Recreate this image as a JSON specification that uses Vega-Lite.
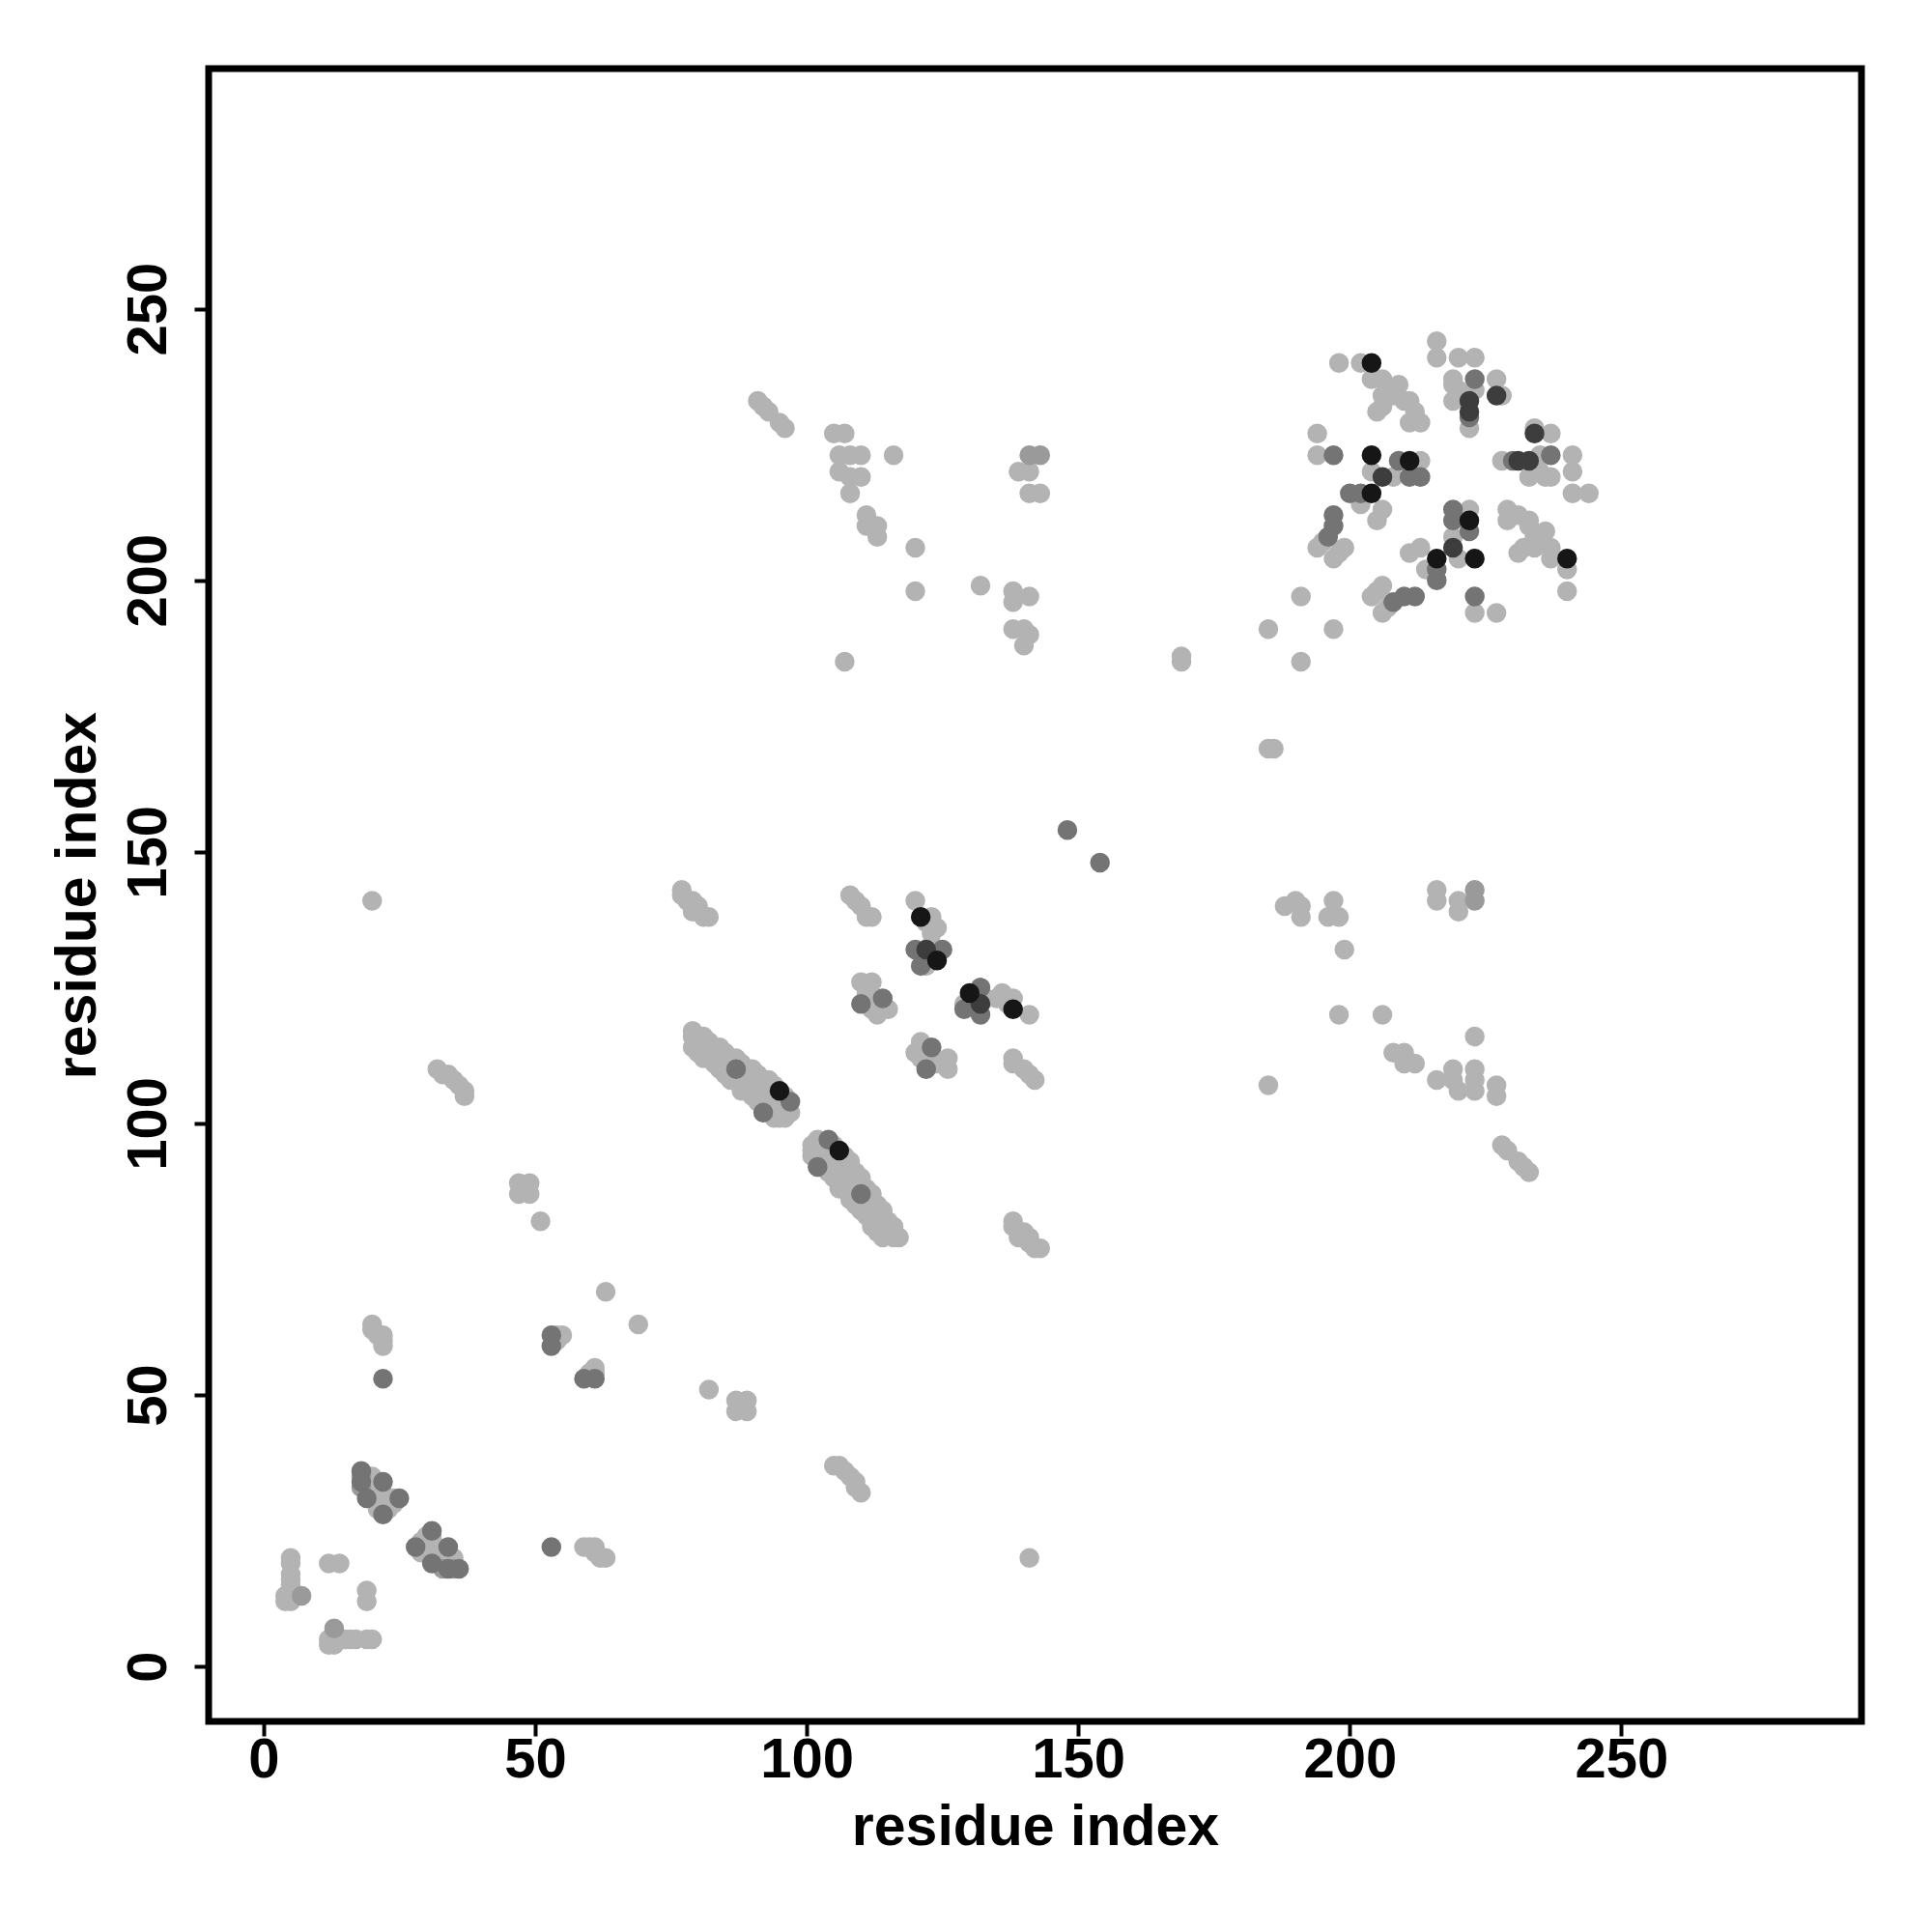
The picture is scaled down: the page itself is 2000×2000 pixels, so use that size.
{
"$schema":"https://vega.github.io/schema/vega-lite/v6.json",
"width":1711,"height":1711,
"autosize":{"type":"none"},
"padding":{"left":216,"top":71,"right":73,"bottom":218},
"background":"white",
"data":{"values":[
{"i":5,"j":20,"c":1},{"i":20,"j":5,"c":1},{"i":5,"j":19,"c":1},{"i":19,"j":5,"c":1},{"i":5,"j":17,"c":1},{"i":17,"j":5,"c":1},{"i":5,"j":16,"c":1},{"i":16,"j":5,"c":1},{"i":5,"j":15,"c":1},{"i":15,"j":5,"c":1},{"i":5,"j":14,"c":1},{"i":14,"j":5,"c":1},{"i":4,"j":13,"c":1},{"i":13,"j":4,"c":1},{"i":5,"j":12,"c":1},{"i":12,"j":5,"c":1},{"i":6,"j":13,"c":1},{"i":13,"j":6,"c":1},{"i":7,"j":13,"c":2},{"i":13,"j":7,"c":2},{"i":4,"j":12,"c":1},{"i":12,"j":4,"c":1},
{"i":12,"j":19,"c":1},{"i":19,"j":12,"c":1},{"i":14,"j":19,"c":1},{"i":19,"j":14,"c":1},
{"i":18,"j":36,"c":3},{"i":36,"j":18,"c":3},{"i":18,"j":35,"c":2},{"i":35,"j":18,"c":2},{"i":18,"j":34,"c":3},{"i":34,"j":18,"c":3},{"i":18,"j":33,"c":2},{"i":33,"j":18,"c":2},{"i":19,"j":34,"c":1},{"i":34,"j":19,"c":1},{"i":20,"j":35,"c":1},{"i":35,"j":20,"c":1},{"i":20,"j":33,"c":1},{"i":33,"j":20,"c":1},{"i":21,"j":33,"c":1},{"i":33,"j":21,"c":1},{"i":19,"j":32,"c":1},{"i":32,"j":19,"c":1},{"i":21,"j":31,"c":1},{"i":31,"j":21,"c":1},{"i":22,"j":34,"c":3},{"i":34,"j":22,"c":3},{"i":22,"j":32,"c":1},{"i":32,"j":22,"c":1},{"i":23,"j":30,"c":1},{"i":30,"j":23,"c":1},{"i":23,"j":29,"c":1},{"i":29,"j":23,"c":1},{"i":24,"j":31,"c":1},{"i":31,"j":24,"c":1},{"i":25,"j":31,"c":3},{"i":31,"j":25,"c":3},{"i":19,"j":31,"c":3},{"i":31,"j":19,"c":3},{"i":22,"j":28,"c":3},{"i":28,"j":22,"c":3},{"i":21,"j":29,"c":1},{"i":29,"j":21,"c":1},{"i":24,"j":30,"c":1},{"i":30,"j":24,"c":1},
{"i":22,"j":53,"c":3},{"i":53,"j":22,"c":3},
{"i":20,"j":63,"c":1},{"i":63,"j":20,"c":1},{"i":20,"j":62,"c":1},{"i":62,"j":20,"c":1},{"i":21,"j":61,"c":1},{"i":61,"j":21,"c":1},{"i":22,"j":61,"c":1},{"i":61,"j":22,"c":1},{"i":22,"j":60,"c":1},{"i":60,"j":22,"c":1},{"i":22,"j":59,"c":1},{"i":59,"j":22,"c":1},
{"i":53,"j":59,"c":3},{"i":59,"j":53,"c":3},{"i":53,"j":61,"c":3},{"i":61,"j":53,"c":3},{"i":54,"j":60,"c":1},{"i":60,"j":54,"c":1},{"i":55,"j":61,"c":1},{"i":61,"j":55,"c":1},{"i":54,"j":61,"c":1},{"i":61,"j":54,"c":1},
{"i":63,"j":69,"c":1},{"i":69,"j":63,"c":1},{"i":51,"j":82,"c":1},{"i":82,"j":51,"c":1},
{"i":47,"j":89,"c":1},{"i":89,"j":47,"c":1},{"i":49,"j":89,"c":1},{"i":89,"j":49,"c":1},{"i":48,"j":88,"c":1},{"i":88,"j":48,"c":1},{"i":47,"j":87,"c":1},{"i":87,"j":47,"c":1},{"i":49,"j":87,"c":1},{"i":87,"j":49,"c":1},
{"i":32,"j":110,"c":1},{"i":110,"j":32,"c":1},{"i":33,"j":109,"c":1},{"i":109,"j":33,"c":1},{"i":34,"j":109,"c":1},{"i":109,"j":34,"c":1},{"i":35,"j":108,"c":1},{"i":108,"j":35,"c":1},{"i":36,"j":107,"c":1},{"i":107,"j":36,"c":1},{"i":37,"j":106,"c":1},{"i":106,"j":37,"c":1},{"i":37,"j":105,"c":1},{"i":105,"j":37,"c":1},
{"i":20,"j":141,"c":1},{"i":141,"j":20,"c":1},
{"i":77,"j":143,"c":1},{"i":143,"j":77,"c":1},{"i":77,"j":142,"c":1},{"i":142,"j":77,"c":1},{"i":78,"j":141,"c":1},{"i":141,"j":78,"c":1},{"i":79,"j":141,"c":1},{"i":141,"j":79,"c":1},{"i":80,"j":140,"c":1},{"i":140,"j":80,"c":1},{"i":80,"j":139,"c":1},{"i":139,"j":80,"c":1},{"i":81,"j":138,"c":1},{"i":138,"j":81,"c":1},{"i":82,"j":138,"c":1},{"i":138,"j":82,"c":1},{"i":79,"j":139,"c":1},{"i":139,"j":79,"c":1},
{"i":79,"j":117,"c":1},{"i":117,"j":79,"c":1},{"i":79,"j":116,"c":1},{"i":116,"j":79,"c":1},{"i":79,"j":114,"c":1},{"i":114,"j":79,"c":1},{"i":80,"j":116,"c":1},{"i":116,"j":80,"c":1},{"i":80,"j":115,"c":1},{"i":115,"j":80,"c":1},{"i":80,"j":113,"c":1},{"i":113,"j":80,"c":1},{"i":81,"j":116,"c":1},{"i":116,"j":81,"c":1},{"i":81,"j":114,"c":1},{"i":114,"j":81,"c":1},{"i":81,"j":112,"c":1},{"i":112,"j":81,"c":1},{"i":82,"j":115,"c":1},{"i":115,"j":82,"c":1},{"i":82,"j":113,"c":1},{"i":113,"j":82,"c":1},{"i":82,"j":112,"c":1},{"i":112,"j":82,"c":1},{"i":83,"j":114,"c":1},{"i":114,"j":83,"c":1},{"i":83,"j":113,"c":1},{"i":113,"j":83,"c":1},{"i":83,"j":111,"c":1},{"i":111,"j":83,"c":1},{"i":84,"j":114,"c":1},{"i":114,"j":84,"c":1},{"i":84,"j":112,"c":1},{"i":112,"j":84,"c":1},{"i":84,"j":110,"c":1},{"i":110,"j":84,"c":1},{"i":85,"j":113,"c":1},{"i":113,"j":85,"c":1},{"i":85,"j":111,"c":1},{"i":111,"j":85,"c":1},{"i":85,"j":109,"c":1},{"i":109,"j":85,"c":1},{"i":86,"j":112,"c":1},{"i":112,"j":86,"c":1},{"i":86,"j":110,"c":1},{"i":110,"j":86,"c":1},{"i":86,"j":108,"c":1},{"i":108,"j":86,"c":1},{"i":87,"j":112,"c":1},{"i":112,"j":87,"c":1},{"i":87,"j":110,"c":3},{"i":110,"j":87,"c":3},{"i":87,"j":108,"c":1},{"i":108,"j":87,"c":1},{"i":88,"j":111,"c":1},{"i":111,"j":88,"c":1},{"i":88,"j":109,"c":1},{"i":109,"j":88,"c":1},{"i":88,"j":106,"c":1},{"i":106,"j":88,"c":1},{"i":89,"j":110,"c":1},{"i":110,"j":89,"c":1},{"i":89,"j":108,"c":1},{"i":108,"j":89,"c":1},{"i":89,"j":106,"c":1},{"i":106,"j":89,"c":1},{"i":90,"j":110,"c":1},{"i":110,"j":90,"c":1},{"i":90,"j":107,"c":1},{"i":107,"j":90,"c":1},{"i":90,"j":105,"c":1},{"i":105,"j":90,"c":1},{"i":91,"j":109,"c":1},{"i":109,"j":91,"c":1},{"i":91,"j":106,"c":1},{"i":106,"j":91,"c":1},{"i":91,"j":104,"c":1},{"i":104,"j":91,"c":1},{"i":92,"j":102,"c":3},{"i":102,"j":92,"c":3},{"i":92,"j":108,"c":1},{"i":108,"j":92,"c":1},{"i":92,"j":106,"c":1},{"i":106,"j":92,"c":1},{"i":92,"j":103,"c":1},{"i":103,"j":92,"c":1},{"i":93,"j":108,"c":1},{"i":108,"j":93,"c":1},{"i":93,"j":105,"c":1},{"i":105,"j":93,"c":1},{"i":93,"j":102,"c":1},{"i":102,"j":93,"c":1},{"i":94,"j":107,"c":1},{"i":107,"j":94,"c":1},{"i":94,"j":104,"c":1},{"i":104,"j":94,"c":1},{"i":94,"j":101,"c":1},{"i":101,"j":94,"c":1},{"i":95,"j":106,"c":5},{"i":106,"j":95,"c":5},{"i":95,"j":104,"c":1},{"i":104,"j":95,"c":1},{"i":95,"j":101,"c":1},{"i":101,"j":95,"c":1},{"i":96,"j":105,"c":1},{"i":105,"j":96,"c":1},{"i":96,"j":103,"c":1},{"i":103,"j":96,"c":1},{"i":96,"j":101,"c":1},{"i":101,"j":96,"c":1},{"i":97,"j":104,"c":3},{"i":104,"j":97,"c":3},{"i":97,"j":102,"c":1},{"i":102,"j":97,"c":1},
{"i":108,"j":142,"c":1},{"i":142,"j":108,"c":1},{"i":109,"j":141,"c":1},{"i":141,"j":109,"c":1},{"i":110,"j":140,"c":1},{"i":140,"j":110,"c":1},{"i":111,"j":138,"c":1},{"i":138,"j":111,"c":1},{"i":112,"j":138,"c":1},{"i":138,"j":112,"c":1},
{"i":110,"j":126,"c":1},{"i":126,"j":110,"c":1},{"i":112,"j":126,"c":1},{"i":126,"j":112,"c":1},{"i":111,"j":124,"c":1},{"i":124,"j":111,"c":1},{"i":114,"j":123,"c":3},{"i":123,"j":114,"c":3},{"i":110,"j":122,"c":3},{"i":122,"j":110,"c":3},{"i":115,"j":121,"c":1},{"i":121,"j":115,"c":1},{"i":113,"j":120,"c":1},{"i":120,"j":113,"c":1},{"i":112,"j":121,"c":1},{"i":121,"j":112,"c":1},{"i":111,"j":122,"c":1},{"i":122,"j":111,"c":1},
{"i":120,"j":141,"c":1},{"i":141,"j":120,"c":1},{"i":121,"j":138,"c":5},{"i":138,"j":121,"c":5},{"i":122,"j":137,"c":1},{"i":137,"j":122,"c":1},{"i":123,"j":138,"c":1},{"i":138,"j":123,"c":1},{"i":124,"j":136,"c":1},{"i":136,"j":124,"c":1},{"i":123,"j":135,"c":1},{"i":135,"j":123,"c":1},{"i":120,"j":132,"c":3},{"i":132,"j":120,"c":3},{"i":122,"j":132,"c":4},{"i":132,"j":122,"c":4},{"i":125,"j":132,"c":3},{"i":132,"j":125,"c":3},{"i":124,"j":130,"c":5},{"i":130,"j":124,"c":5},{"i":121,"j":129,"c":3},{"i":129,"j":121,"c":3},{"i":122,"j":129,"c":1},{"i":129,"j":122,"c":1},{"i":123,"j":133,"c":1},{"i":133,"j":123,"c":1},
{"i":148,"j":154,"c":3},{"i":154,"j":148,"c":3},
{"i":107,"j":185,"c":1},{"i":185,"j":107,"c":1},{"i":116,"j":223,"c":1},{"i":223,"j":116,"c":1},{"i":106,"j":223,"c":1},{"i":223,"j":106,"c":1},{"i":108,"j":223,"c":1},{"i":223,"j":108,"c":1},{"i":110,"j":223,"c":1},{"i":223,"j":110,"c":1},{"i":106,"j":220,"c":1},{"i":220,"j":106,"c":1},{"i":108,"j":219,"c":1},{"i":219,"j":108,"c":1},{"i":110,"j":219,"c":1},{"i":219,"j":110,"c":1},{"i":105,"j":227,"c":1},{"i":227,"j":105,"c":1},{"i":107,"j":227,"c":1},{"i":227,"j":107,"c":1},{"i":108,"j":216,"c":1},{"i":216,"j":108,"c":1},{"i":113,"j":208,"c":1},{"i":208,"j":113,"c":1},{"i":113,"j":210,"c":1},{"i":210,"j":113,"c":1},{"i":111,"j":210,"c":1},{"i":210,"j":111,"c":1},{"i":111,"j":212,"c":1},{"i":212,"j":111,"c":1},{"i":120,"j":206,"c":1},{"i":206,"j":120,"c":1},{"i":120,"j":198,"c":1},{"i":198,"j":120,"c":1},{"i":132,"j":199,"c":1},{"i":199,"j":132,"c":1},{"i":138,"j":198,"c":1},{"i":198,"j":138,"c":1},{"i":141,"j":197,"c":1},{"i":197,"j":141,"c":1},{"i":138,"j":196,"c":1},{"i":196,"j":138,"c":1},{"i":138,"j":191,"c":1},{"i":191,"j":138,"c":1},{"i":140,"j":191,"c":1},{"i":191,"j":140,"c":1},{"i":141,"j":190,"c":1},{"i":190,"j":141,"c":1},{"i":140,"j":188,"c":1},{"i":188,"j":140,"c":1},{"i":141,"j":223,"c":2},{"i":223,"j":141,"c":2},{"i":143,"j":223,"c":2},{"i":223,"j":143,"c":2},{"i":139,"j":220,"c":1},{"i":220,"j":139,"c":1},{"i":141,"j":220,"c":1},{"i":220,"j":141,"c":1},{"i":141,"j":216,"c":1},{"i":216,"j":141,"c":1},{"i":143,"j":216,"c":1},{"i":216,"j":143,"c":1},{"i":91,"j":233,"c":1},{"i":233,"j":91,"c":1},{"i":92,"j":232,"c":1},{"i":232,"j":92,"c":1},{"i":93,"j":231,"c":1},{"i":231,"j":93,"c":1},{"i":95,"j":229,"c":1},{"i":229,"j":95,"c":1},{"i":96,"j":228,"c":1},{"i":228,"j":96,"c":1},{"i":169,"j":185,"c":1},{"i":185,"j":169,"c":1},{"i":169,"j":186,"c":1},{"i":186,"j":169,"c":1},{"i":185,"j":191,"c":1},{"i":191,"j":185,"c":1},{"i":191,"j":197,"c":1},{"i":197,"j":191,"c":1},
{"i":216,"j":244,"c":1},{"i":244,"j":216,"c":1},{"i":216,"j":241,"c":1},{"i":241,"j":216,"c":1},{"i":220,"j":241,"c":1},{"i":241,"j":220,"c":1},{"i":223,"j":241,"c":1},{"i":241,"j":223,"c":1},
{"i":198,"j":240,"c":1},{"i":240,"j":198,"c":1},{"i":202,"j":240,"c":1},{"i":240,"j":202,"c":1},{"i":204,"j":240,"c":5},{"i":240,"j":204,"c":5},
{"i":204,"j":237,"c":1},{"i":237,"j":204,"c":1},{"i":206,"j":237,"c":1},{"i":237,"j":206,"c":1},{"i":209,"j":236,"c":1},{"i":236,"j":209,"c":1},{"i":207,"j":235,"c":1},{"i":235,"j":207,"c":1},{"i":206,"j":234,"c":1},{"i":234,"j":206,"c":1},{"i":208,"j":234,"c":1},{"i":234,"j":208,"c":1},{"i":210,"j":233,"c":1},{"i":233,"j":210,"c":1},{"i":211,"j":233,"c":1},{"i":233,"j":211,"c":1},{"i":206,"j":232,"c":1},{"i":232,"j":206,"c":1},{"i":205,"j":231,"c":1},{"i":231,"j":205,"c":1},{"i":212,"j":231,"c":1},{"i":231,"j":212,"c":1},{"i":211,"j":229,"c":1},{"i":229,"j":211,"c":1},{"i":213,"j":229,"c":1},{"i":229,"j":213,"c":1},
{"i":219,"j":237,"c":1},{"i":237,"j":219,"c":1},{"i":219,"j":236,"c":1},{"i":236,"j":219,"c":1},{"i":220,"j":235,"c":1},{"i":235,"j":220,"c":1},{"i":219,"j":233,"c":1},{"i":233,"j":219,"c":1},{"i":223,"j":237,"c":3},{"i":237,"j":223,"c":3},{"i":223,"j":235,"c":1},{"i":235,"j":223,"c":1},{"i":222,"j":233,"c":4},{"i":233,"j":222,"c":4},{"i":222,"j":231,"c":4},{"i":231,"j":222,"c":4},{"i":222,"j":230,"c":3},{"i":230,"j":222,"c":3},{"i":222,"j":228,"c":1},{"i":228,"j":222,"c":1},{"i":227,"j":237,"c":1},{"i":237,"j":227,"c":1},{"i":227,"j":234,"c":4},{"i":234,"j":227,"c":4},{"i":228,"j":234,"c":1},{"i":234,"j":228,"c":1},
{"i":194,"j":227,"c":1},{"i":227,"j":194,"c":1},{"i":194,"j":223,"c":1},{"i":223,"j":194,"c":1},{"i":197,"j":223,"c":3},{"i":223,"j":197,"c":3},{"i":204,"j":223,"c":5},{"i":223,"j":204,"c":5},{"i":209,"j":222,"c":3},{"i":222,"j":209,"c":3},{"i":211,"j":222,"c":5},{"i":222,"j":211,"c":5},{"i":213,"j":222,"c":1},{"i":222,"j":213,"c":1},{"i":204,"j":220,"c":1},{"i":220,"j":204,"c":1},{"i":206,"j":219,"c":4},{"i":219,"j":206,"c":4},{"i":208,"j":219,"c":1},{"i":219,"j":208,"c":1},{"i":211,"j":219,"c":3},{"i":219,"j":211,"c":3},{"i":213,"j":219,"c":3},{"i":219,"j":213,"c":3},{"i":200,"j":216,"c":3},{"i":216,"j":200,"c":3},{"i":202,"j":216,"c":3},{"i":216,"j":202,"c":3},{"i":204,"j":216,"c":5},{"i":216,"j":204,"c":5},{"i":202,"j":214,"c":1},{"i":214,"j":202,"c":1},{"i":206,"j":213,"c":1},{"i":213,"j":206,"c":1},{"i":205,"j":211,"c":1},{"i":211,"j":205,"c":1},
{"i":197,"j":212,"c":3},{"i":212,"j":197,"c":3},{"i":197,"j":210,"c":3},{"i":210,"j":197,"c":3},{"i":196,"j":208,"c":3},{"i":208,"j":196,"c":3},{"i":195,"j":207,"c":1},{"i":207,"j":195,"c":1},{"i":199,"j":206,"c":1},{"i":206,"j":199,"c":1},{"i":198,"j":205,"c":1},{"i":205,"j":198,"c":1},{"i":197,"j":204,"c":1},{"i":204,"j":197,"c":1},{"i":194,"j":206,"c":1},{"i":206,"j":194,"c":1}
]},
"mark":{"type":"circle","size":420,"opacity":1},
"encoding":{
"x":{"field":"i","type":"quantitative","scale":{"domain":[-10.1,294.2],"nice":false,"zero":false},
"axis":{"values":[0,50,100,150,200,250],"title":"residue index","labelPadding":42,"labelBaseline":"alphabetic","labelFlush":false,"labelOverlap":false,"titleBaseline":"alphabetic","titleX":855.5,"titleY":127,"titleAlign":"center"}},
"y":{"field":"j","type":"quantitative","scale":{"domain":[-10.1,294.2],"nice":false,"zero":false},
"axis":{"values":[0,50,100,150,200,250],"title":"residue index","labelAngle":-90,"labelAlign":"center","labelBaseline":"alphabetic","labelPadding":30,"labelFlush":false,"labelOverlap":false,"titleAngle":270,"titleBaseline":"alphabetic","titleAlign":"center","titleX":-118,"titleY":855.5}},
"color":{"field":"c","type":"ordinal","scale":{"domain":[1,2,3,4,5],"range":["#b3b3b3","#9a9a9a","#747474","#3d3d3d","#161616"]},"legend":null},
"order":{"field":"c","type":"quantitative","sort":"ascending"}
},
"config":{
"view":{"stroke":"black","strokeWidth":7},
"axis":{"grid":false,"domain":false,"labelFont":"Liberation Sans","labelFontWeight":"bold","labelFontSize":58,"labelColor":"black","titleFont":"Liberation Sans","titleFontWeight":"bold","titleFontSize":59,"titleColor":"black","tickColor":"black","tickWidth":4,"tickSize":15}
}
}
